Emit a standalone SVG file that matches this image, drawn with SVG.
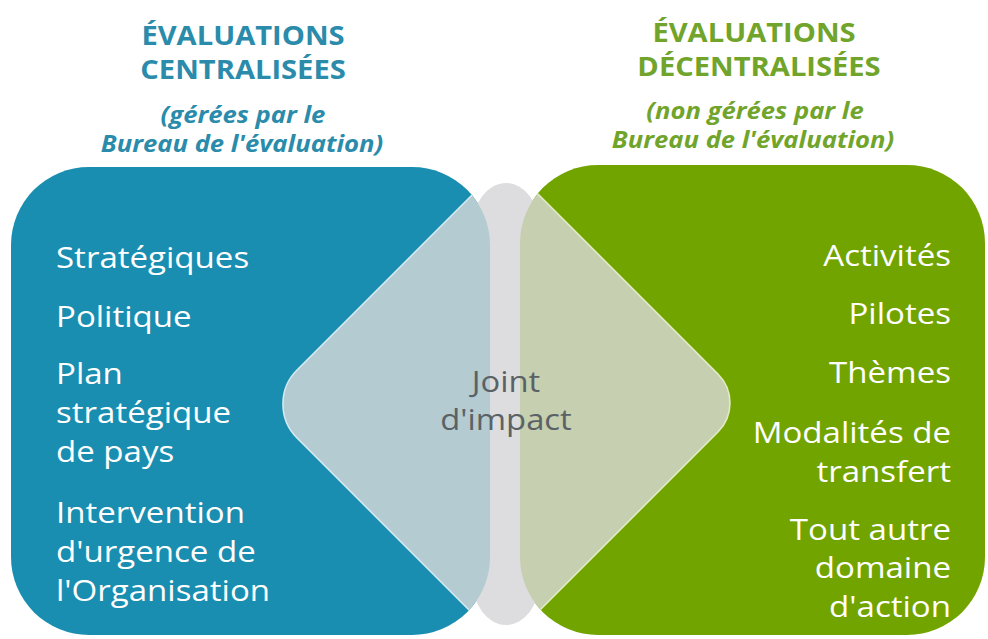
<svg xmlns="http://www.w3.org/2000/svg" width="988" height="639" viewBox="0 0 988 639">
  <style>
    .t { font-family: "Open Sans", "Noto Sans", "DejaVu Sans", sans-serif; }
    .h { font-weight: 700; font-size: 26px; text-anchor: middle; }
    .s { font-weight: 700; font-style: italic; font-size: 22.5px; text-anchor: middle; }
    .hb { fill: #2a8bab; }
    .hg { fill: #70a42a; }
    .w { fill: #ffffff; font-size: 29px; }
    .l { text-anchor: start; }
    .r { text-anchor: end; }
    .j { fill: #5a6266; font-size: 29px; text-anchor: middle; }
  </style>
  <defs>
    <clipPath id="clipBlue">
      <rect x="11" y="167" width="479" height="468" rx="78" ry="78"/>
    </clipPath>
    <clipPath id="clipGreen">
      <rect x="520" y="165" width="465" height="470" rx="78" ry="78"/>
    </clipPath>
  </defs>

  <rect id="blue-base" x="11" y="167" width="479" height="468" rx="78" ry="78" fill="#1a8eb0"/>
  <rect id="green-base" x="520" y="165" width="465" height="470" rx="78" ry="78" fill="#72a400"/>

  <g id="joint">
    <rect x="472" y="183" width="68" height="442" rx="34" ry="46" fill="#dddddf"/>
    <path clip-path="url(#clipBlue)" d="M 520 147 L 297 370 A 48 48 0 0 0 297 438 L 520 661 Z" fill="#b4cbd2" stroke="#e6f6fa" stroke-opacity="0.85" stroke-width="1.5"/>
    <path clip-path="url(#clipGreen)" d="M 480 136 L 718 374 A 41 41 0 0 1 718 432 L 480 670 Z" fill="#c6cfb0" stroke="#eef6d2" stroke-opacity="0.85" stroke-width="1.5"/>
    <text class="t j" transform="translate(506 392) scale(1.13 1)">Joint</text>
    <text class="t j" transform="translate(506 430) scale(1.13 1)">d'impact</text>
  </g>

  <g id="centralisees">
    <text class="t h hb" transform="translate(243 45) scale(1.12 1)">ÉVALUATIONS</text>
    <text class="t h hb" transform="translate(243 79) scale(1.12 1)">CENTRALISÉES</text>
    <text class="t s hb" transform="translate(243 123) scale(1.14 1)">(gérées par le</text>
    <text class="t s hb" transform="translate(242 152) scale(1.14 1)">Bureau de l'évaluation)</text>
    <text class="t w l" transform="translate(56 268) scale(1.14 1)">Stratégiques</text>
    <text class="t w l" transform="translate(56 327) scale(1.14 1)">Politique</text>
    <text class="t w l" transform="translate(56 384) scale(1.14 1)">Plan</text>
    <text class="t w l" transform="translate(56 423) scale(1.14 1)">stratégique</text>
    <text class="t w l" transform="translate(56 462) scale(1.14 1)">de pays</text>
    <text class="t w l" transform="translate(56 523) scale(1.14 1)">Intervention</text>
    <text class="t w l" transform="translate(56 562) scale(1.14 1)">d'urgence de</text>
    <text class="t w l" transform="translate(56 601) scale(1.14 1)">l'Organisation</text>
  </g>

  <g id="decentralisees">
    <text class="t h hg" transform="translate(754 42) scale(1.12 1)">ÉVALUATIONS</text>
    <text class="t h hg" transform="translate(759 76) scale(1.12 1)">DÉCENTRALISÉES</text>
    <text class="t s hg" transform="translate(755 119) scale(1.14 1)">(non gérées par le</text>
    <text class="t s hg" transform="translate(753 148) scale(1.14 1)">Bureau de l'évaluation)</text>
    <text class="t w r" transform="translate(951 266) scale(1.14 1)">Activités</text>
    <text class="t w r" transform="translate(951 324) scale(1.14 1)">Pilotes</text>
    <text class="t w r" transform="translate(951 383) scale(1.14 1)">Thèmes</text>
    <text class="t w r" transform="translate(951 443) scale(1.14 1)">Modalités de</text>
    <text class="t w r" transform="translate(951 482) scale(1.14 1)">transfert</text>
    <text class="t w r" transform="translate(951 540) scale(1.14 1)">Tout autre</text>
    <text class="t w r" transform="translate(951 578) scale(1.14 1)">domaine</text>
    <text class="t w r" transform="translate(951 617) scale(1.14 1)">d'action</text>
  </g>
</svg>
